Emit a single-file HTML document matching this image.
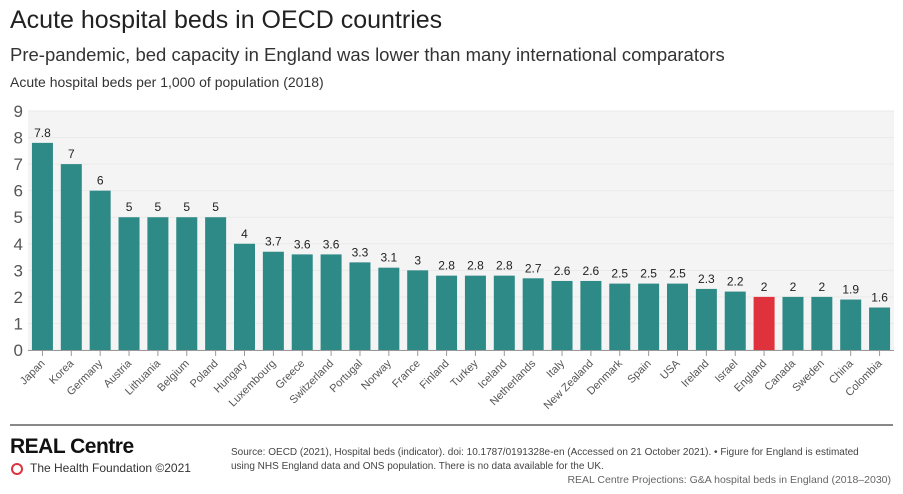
<!DOCTYPE html>
<html><head><meta charset="utf-8"><style>
body{margin:0;width:903px;height:494px;background:#fff;font-family:"Liberation Sans",sans-serif;overflow:hidden;position:relative}
.t{position:absolute;white-space:nowrap}
</style></head><body>
<div class="t" style="left:10px;top:6px;font-size:25px;color:#222">Acute hospital beds in OECD countries</div>
<div class="t" style="left:10px;top:44px;font-size:18.5px;color:#333">Pre-pandemic, bed capacity in England was lower than many international comparators</div>
<div class="t" style="left:10px;top:74px;font-size:14px;color:#333">Acute hospital beds per 1,000 of population (2018)</div>
<svg id="chart" width="903" height="430" style="position:absolute;left:0;top:0"></svg>
<div style="position:absolute;left:10px;top:424px;width:883px;height:2px;background:#888"></div>
<div class="t" style="left:10px;top:435px;font-size:21px;font-weight:bold;color:#111;letter-spacing:-0.5px">REAL Centre</div>
<div style="position:absolute;left:11px;top:463px;width:8px;height:8px;border:2.5px solid #e0323c;border-radius:50%"></div>
<div class="t" style="left:30px;top:461px;font-size:12px;color:#333">The Health Foundation ©2021</div>
<div class="t" style="left:231px;top:446px;font-size:10px;color:#444;line-height:14px">Source: OECD (2021), Hospital beds (indicator). doi: 10.1787/0191328e-en (Accessed on 21 October 2021). • Figure for England is estimated<br>using NHS England data and ONS population. There is no data available for the UK.</div>
<div class="t" style="right:12px;top:474px;font-size:10.5px;color:#666">REAL Centre Projections: G&amp;A hospital beds in England (2018–2030)</div>
<script>
const categories=["Japan","Korea","Germany","Austria","Lithuania","Belgium","Poland","Hungary","Luxembourg","Greece","Switzerland","Portugal","Norway","France","Finland","Turkey","Iceland","Netherlands","Italy","New Zealand","Denmark","Spain","USA","Ireland","Israel","England","Canada","Sweden","China","Colombia"];
const values=[7.8,7,6,5,5,5,5,4,3.7,3.6,3.6,3.3,3.1,3,2.8,2.8,2.8,2.7,2.6,2.6,2.5,2.5,2.5,2.3,2.2,2,2,2,1.9,1.6];
const yTicks=[0,1,2,3,4,5,6,7,8,9];
const NS="http://www.w3.org/2000/svg",svg=document.getElementById('chart');
const x0=28,x1=894,yTop=111,yBot=350;
const y=v=>yBot-(v/9)*(yBot-yTop);
const step=(x1-x0)/categories.length;
const xc=i=>x0+step*(i+0.5);
function mk(t,a){const e=document.createElementNS(NS,t);for(const k in a)e.setAttribute(k,a[k]);svg.appendChild(e);return e;}
const bg=mk('rect',{x:x0,y:yTop,width:x1-x0,height:yBot-yTop,fill:'#f4f4f4'});


yTicks.forEach(v=>{
 const g=mk('line',{x1:x0,x2:x1,y1:y(v),y2:y(v),stroke:'#eaeaea'});
 
 
 const t=mk('text',{x:23,y:y(v)+6,'text-anchor':'end','font-size':17,fill:'#555'});t.textContent=v;
 
 
});
mk('line',{x1:x0,x2:x1,y1:yBot+0.5,y2:yBot+0.5,stroke:'#999'});
categories.forEach((c,i)=>{
 const bw=21,cx=xc(i);
 const r=mk('rect',{x:cx-bw/2,y:y(values[i]),width:bw,height:yBot-y(values[i]),fill:c==='England'?'#e0323c':'#2e8a87'});
 
 
 const l=mk('text',{x:cx,y:y(values[i])-6,'text-anchor':'middle','font-size':12,fill:'#222'});l.textContent=values[i];
 
 
 mk('line',{x1:cx,x2:cx,y1:yBot,y2:yBot+6,stroke:'#999'});
 const xl=mk('text',{x:cx+3,y:yBot+14,'text-anchor':'end','font-size':11,fill:'#555',transform:`rotate(-45 ${cx+3} ${yBot+14})`});xl.textContent=c;
 
 
});
</script>
</body></html>
